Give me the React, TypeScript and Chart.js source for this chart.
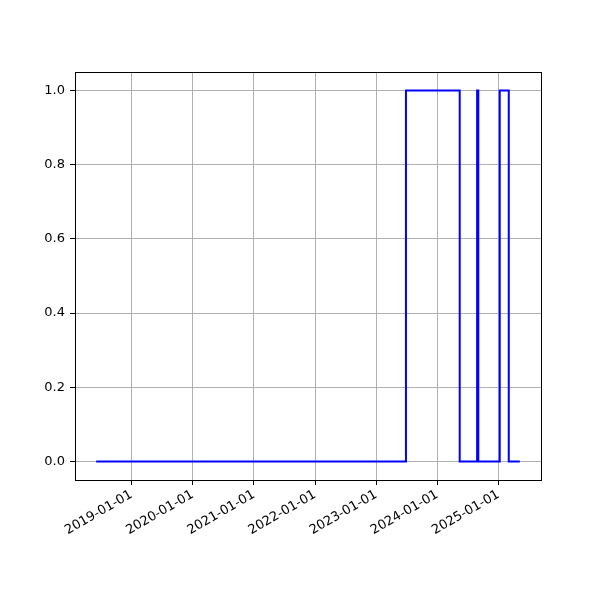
import React, { useEffect, useRef } from "react";
import { Chart, registerables } from "chart.js";

Chart.register(...registerables);

const dates = [
  "2018-06-04",
  "2023-06-28",
  "2024-05-14",
  "2024-08-26",
  "2024-09-02",
  "2025-01-08",
  "2025-03-03",
  "2025-05-08",
];
const values = [0, 1, 0, 1, 0, 1, 0, 0];
const xTickYears = [2019, 2020, 2021, 2022, 2023, 2024, 2025];
const yTicks = [0, 0.2, 0.4, 0.6, 0.8, 1.0];

const toMs = (s: string) => Date.parse(s + "T00:00:00Z");

export default function App() {
  const ref = useRef<HTMLCanvasElement | null>(null);
  useEffect(() => {
    document.body.style.margin = "0";
    const xs = dates.map(toMs);
    const span = xs[xs.length - 1] - xs[0];
    const xmin = xs[0] - span * 0.05;
    const xmax = xs[xs.length - 1] + span * 0.05;
    const frame = {
      id: "frame",
      afterDraw(chart: any) {
        const { ctx, chartArea: a } = chart;
        ctx.save();
        ctx.strokeStyle = "#000";
        ctx.lineWidth = 1;
        ctx.strokeRect(Math.round(a.left) + 0.5, Math.round(a.top) + 0.5, Math.round(a.right - a.left), Math.round(a.bottom - a.top));
        ctx.restore();
      },
    };
    const chart = new Chart(ref.current!, {
      type: "line",
      data: {
        datasets: [
          {
            data: xs.map((x, i) => ({ x, y: values[i] })),
            borderColor: "#0000ff",
            borderWidth: 2,
            pointRadius: 0,
            stepped: "before",
            fill: false,
          },
        ],
      },
      options: {
        animation: false,
        responsive: false,
        devicePixelRatio: 1,
        layout: { padding: { top: 72, right: 59, left: 0, bottom: 0 } },
        plugins: { legend: { display: false }, tooltip: { enabled: false } },
        scales: {
          x: {
            type: "linear",
            min: xmin,
            max: xmax,
            afterBuildTicks: (s: any) => {
              s.ticks = xTickYears.map((y) => ({ value: Date.UTC(y, 0, 1) }));
            },
            afterFit: (s: any) => {
              s.height = 120;
            },
            grid: { color: "#b0b0b0", lineWidth: 1, tickColor: "#000", tickLength: 5 },
            border: { display: false },
            ticks: {
              autoSkip: false,
              minRotation: 30,
              maxRotation: 30,
              padding: 2,
              color: "#000",
              font: { family: "DejaVu Sans", size: 13 },
              callback: (v: any) => {
                const d = new Date(v);
                return d.getUTCFullYear() + "-01-01";
              },
            },
          },
          y: {
            type: "linear",
            min: -0.05,
            max: 1.05,
            afterBuildTicks: (s: any) => {
              s.ticks = yTicks.map((v) => ({ value: v }));
            },
            afterFit: (s: any) => {
              s.width = 75;
            },
            grid: { color: "#b0b0b0", lineWidth: 1, tickColor: "#000", tickLength: 5 },
            border: { display: false },
            ticks: {
              padding: 5,
              color: "#000",
              font: { family: "DejaVu Sans", size: 13 },
              callback: (v: any) => Number(v).toFixed(1),
            },
          },
        },
      },
      plugins: [frame],
    });
    return () => chart.destroy();
  }, []);
  return <canvas ref={ref} width={600} height={600} style={{ display: "block" }} />;
}
